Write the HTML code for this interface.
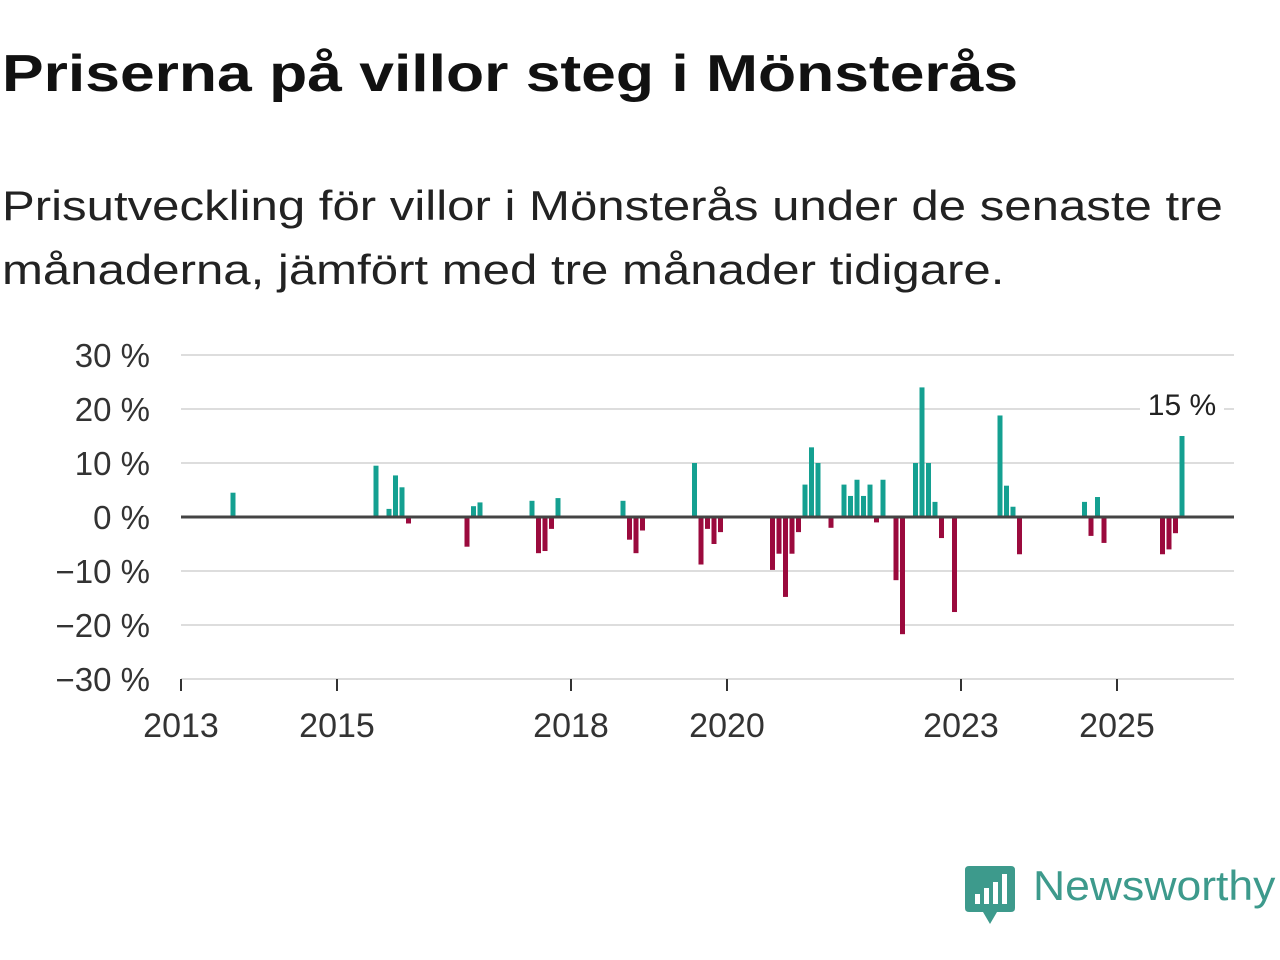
<!DOCTYPE html>
<html><head><meta charset="utf-8"><style>
body{margin:0;width:1280px;height:960px;background:#fff;font-family:"Liberation Sans","DejaVu Sans",sans-serif;overflow:hidden}
h1{position:absolute;left:2px;top:44px;margin:0;font-size:52px;font-weight:bold;color:#111;white-space:nowrap;transform:scaleX(1.2);transform-origin:left top}
p{position:absolute;left:2px;top:174px;margin:0;font-size:42px;line-height:64px;color:#222;white-space:nowrap;transform:scaleX(1.17);transform-origin:left top}
svg{position:absolute;left:0;top:0}
</style></head><body>
<h1>Priserna på villor steg i Mönsterås</h1>
<p>Prisutveckling för villor i Mönsterås under de senaste tre<br>månaderna, jämfört med tre månader tidigare.</p>
<svg id="chart" width="1280" height="960"></svg>
<div style="position:absolute;left:965px;top:866px;">
<svg width="50" height="60" style="position:static"><path d="M0 4 Q0 0 4 0 H46 Q50 0 50 4 V42 Q50 46 46 46 H32 L25 58 L18 46 H4 Q0 46 0 42Z" fill="#3d9a8c"/><rect x="10" y="28" width="5" height="10" fill="#fff"/><rect x="19" y="22" width="5" height="16" fill="#fff"/><rect x="28" y="16" width="5" height="22" fill="#fff"/><rect x="37" y="8" width="5" height="30" fill="#fff"/></svg>
<span style="position:absolute;left:68px;top:-4px;font-size:42px;color:#3d9a8c;white-space:nowrap;transform:scaleX(1.06);transform-origin:left top">Newsworthy</span></div>
<script>
const months=[8,30,32,33,34,35,44,45,46,54,55,56,57,58,68,69,70,71,79,80,81,82,83,91,92,93,94,95,96,97,98,100,102,103,104,105,106,107,108,110,111,113,114,115,116,117,119,126,127,128,129,139,140,141,142,151,152,153,154];
const values=[4.5,9.5,1.5,7.7,5.5,-1.2,-5.5,2,2.7,3,-6.7,-6.3,-2.2,3.5,3,-4.2,-6.7,-2.5,10,-8.8,-2.2,-5,-2.8,-9.8,-6.8,-14.8,-6.8,-2.8,6,12.9,10,-2,6,3.9,6.9,3.9,6,-1,6.9,-11.7,-21.7,10,24,10,2.8,-3.9,-17.6,18.8,5.8,1.9,-6.9,2.8,-3.5,3.7,-4.8,-6.9,-6,-3,15];
const yTicks=[30,20,10,0,-10,-20,-30];
const yTickLabels=["30 %","20 %","10 %","0 %","−10 %","−20 %","−30 %"];
const xTickMonths=[0,24,60,84,120,144];
const xTickLabels=["2013","2015","2018","2020","2023","2025"];
const lastLabel="15 %";
const NS="http://www.w3.org/2000/svg",svg=document.getElementById('chart');
const x=m=>181+m*6.5, y=v=>517-v*5.4;
function el(t,a){const e=document.createElementNS(NS,t);for(const k in a)e.setAttribute(k,a[k]);svg.appendChild(e);return e;}
yTicks.forEach((v,i)=>{
 if(v!==0&&v!==-30){const g=el('line',{x1:181,x2:1234,y1:y(v),y2:y(v),stroke:'#ddd','stroke-width':2});
 
 }
 const t=el('text',{x:150,y:y(v)+12,'text-anchor':'end','font-size':33,fill:'#333'});t.textContent=yTickLabels[i];
 
 
});
const b=el('line',{x1:181,x2:1234,y1:y(-30),y2:y(-30),stroke:'#ddd','stroke-width':2});


xTickMonths.forEach((m,i)=>{
 const l=el('line',{x1:x(m),x2:x(m),y1:y(-30),y2:y(-30)+12,stroke:'#333','stroke-width':2});
 
 
 const t=el('text',{x:x(m),y:737,'text-anchor':'middle','font-size':34,fill:'#333'});t.textContent=xTickLabels[i];
 
 
});
months.forEach((m,i)=>{const v=values[i];
 const r=el('rect',{x:x(m)-2.5,width:5,y:Math.min(y(v),y(0)),height:Math.abs(y(v)-y(0)),fill:v>=0?'#14a091':'#9b0a3d'});
 
 
});
const z=el('line',{x1:181,x2:1234,y1:y(0),y2:y(0),stroke:'#444','stroke-width':3});


const lm=months[months.length-1];
const bg=el('rect',{x:x(lm)-42,y:y(20)-4,width:84,height:8,fill:'#fff'});


const lt=el('text',{x:x(lm),y:y(20)+6,'text-anchor':'middle','font-size':30,fill:'#222'});lt.textContent=lastLabel;


</script>
</body></html>
